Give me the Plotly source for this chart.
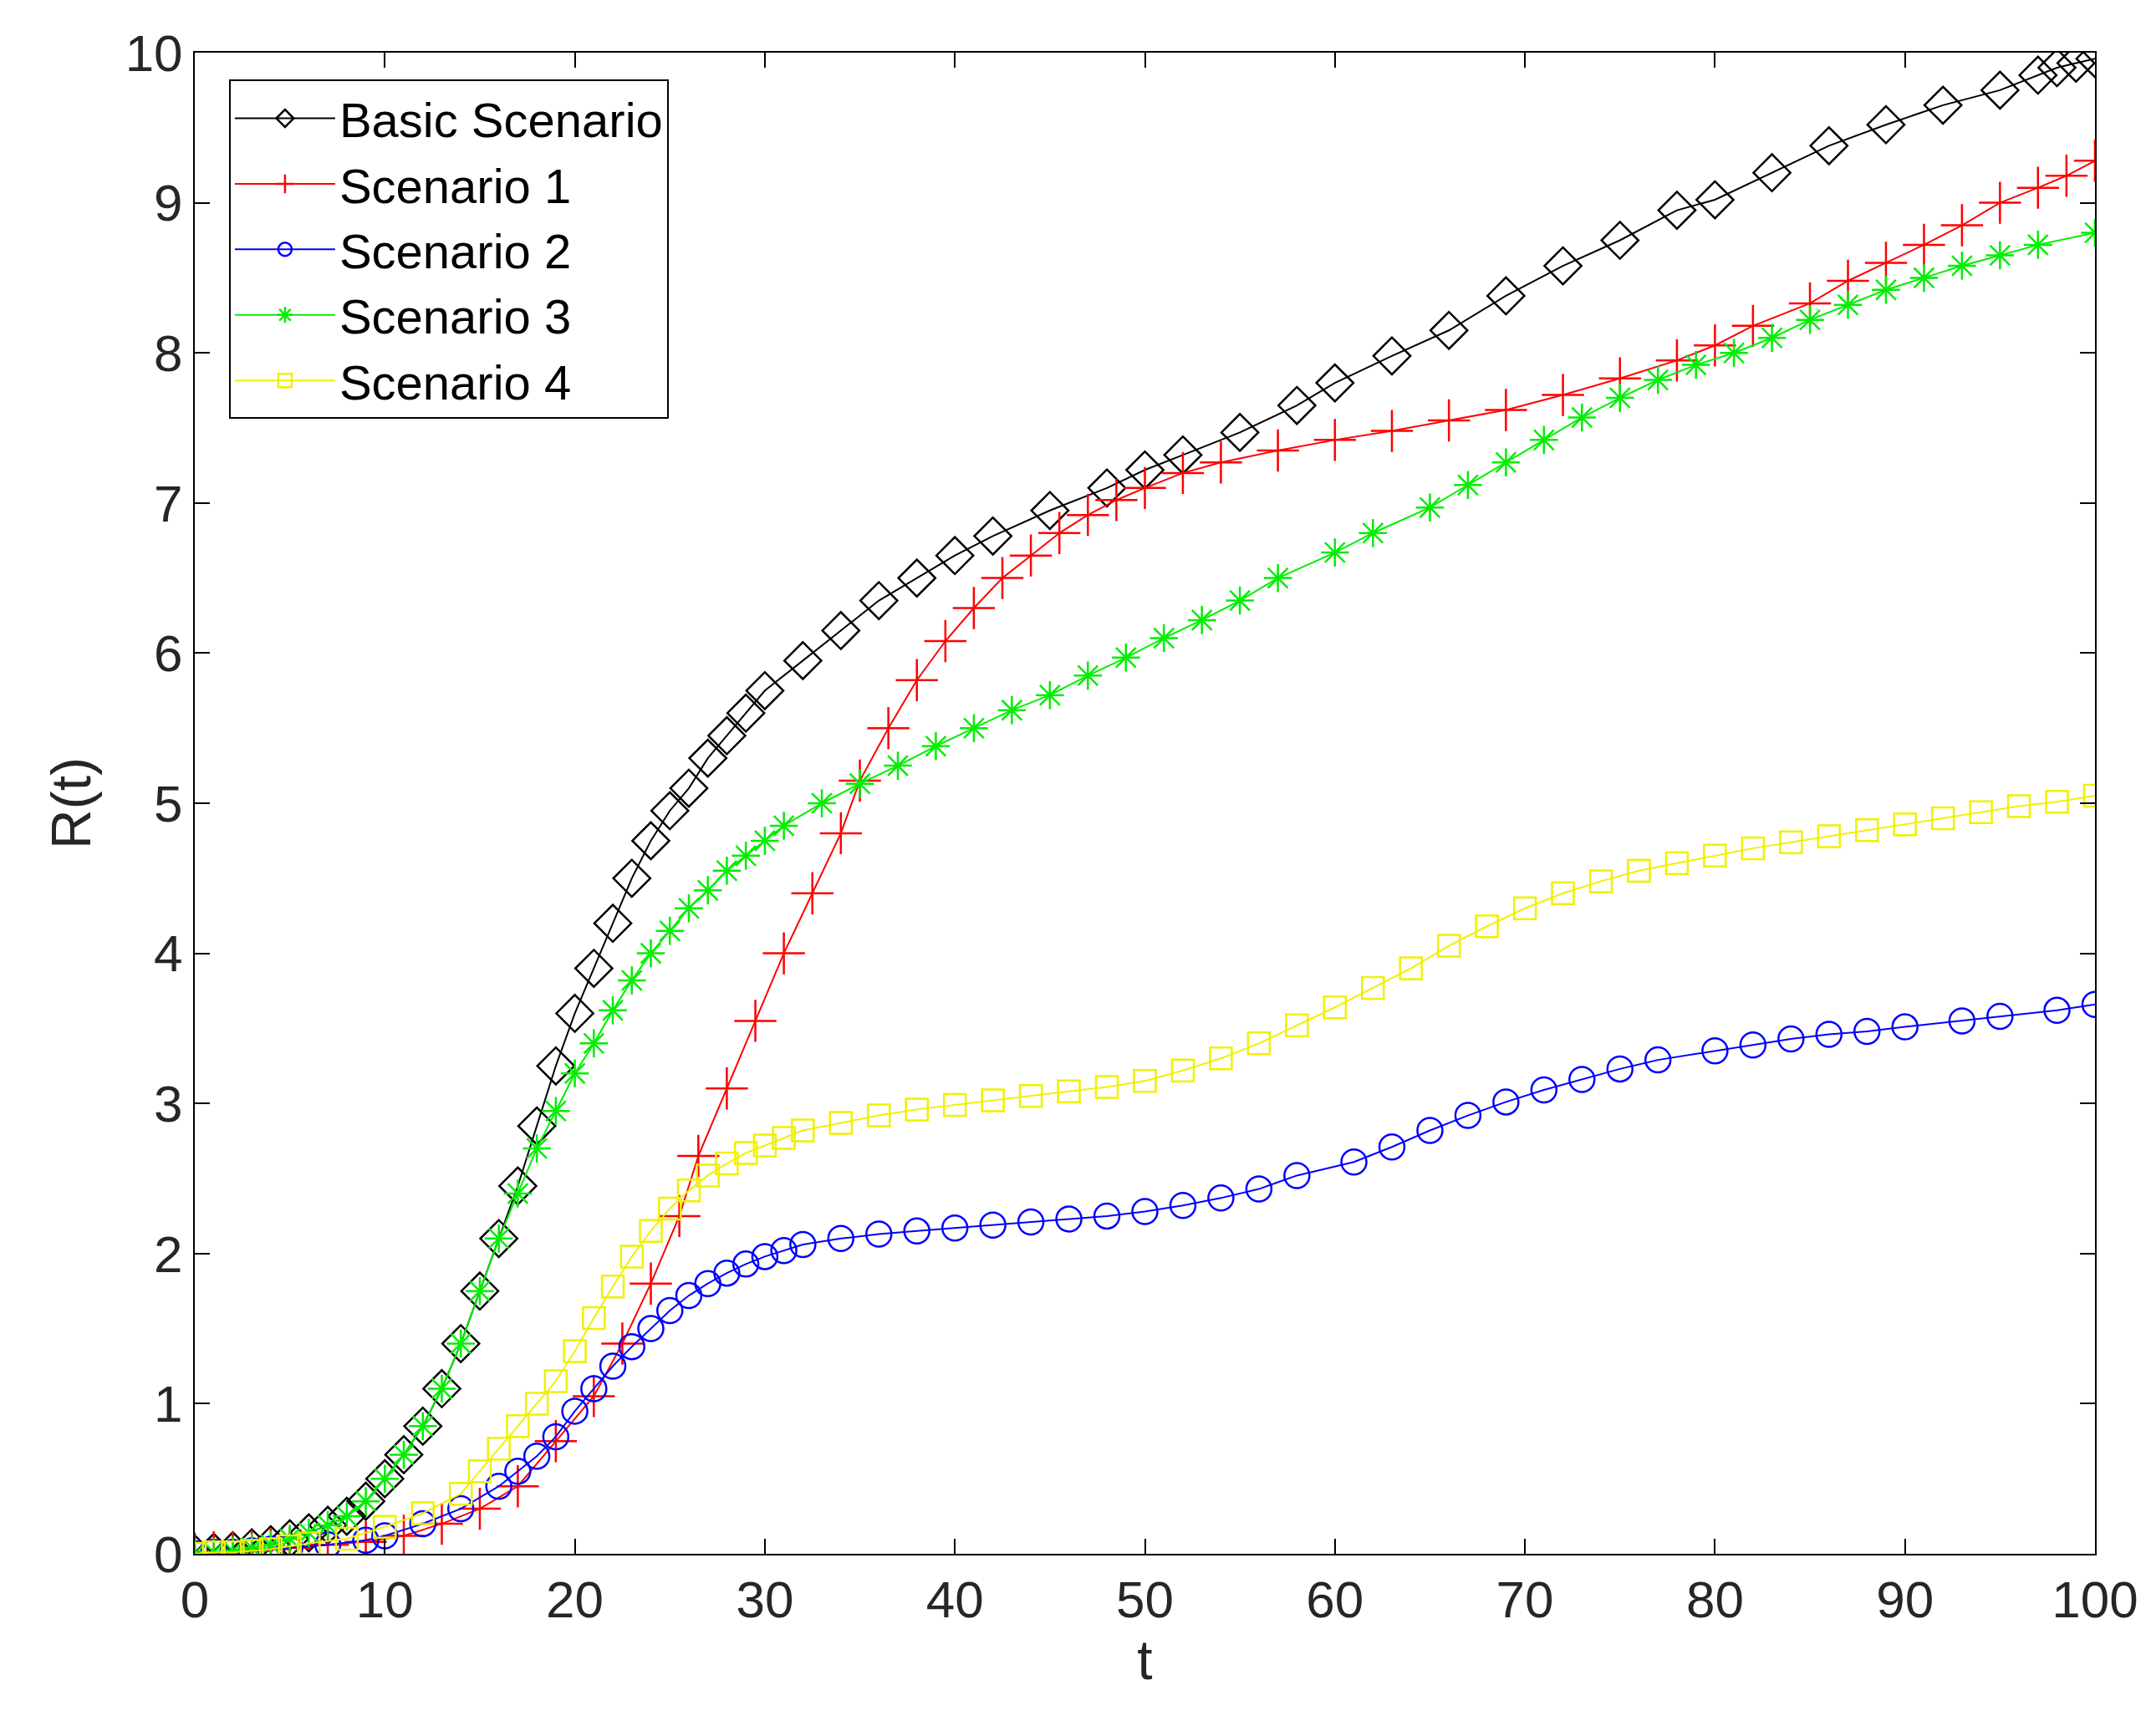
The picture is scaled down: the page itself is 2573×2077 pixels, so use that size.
import plotly.graph_objects as go

# Basic Scenario
t_basic = [0, 1, 2, 3, 4, 5, 6, 7, 8, 9, 10, 11, 12, 13, 14, 15, 16, 17, 18, 19, 20, 21, 22, 23, 24, 25, 26, 27, 28, 29, 30,
           32, 34, 36, 38, 40, 42, 45, 48, 50, 52, 55, 58, 60, 63, 66, 69, 72, 75, 78, 80, 83, 86, 89, 92, 95, 97, 98, 99, 100]
r_basic = [0, 0.01, 0.02, 0.04, 0.06, 0.1, 0.14, 0.19, 0.25, 0.35, 0.5, 0.66, 0.85, 1.1, 1.4, 1.75, 2.1, 2.45, 2.85, 3.25, 3.6,
           3.9, 4.2, 4.5, 4.75, 4.95, 5.1, 5.3, 5.45, 5.6, 5.75, 5.95, 6.15, 6.35, 6.5, 6.65, 6.78, 6.95, 7.1, 7.22, 7.32, 7.47,
           7.65, 7.8, 7.98, 8.15, 8.38, 8.58, 8.75, 8.95, 9.02, 9.2, 9.38, 9.52, 9.65, 9.75, 9.85, 9.9, 9.93, 9.96]

# Scenario 1
t_s1 = [0, 1, 2, 3, 4, 5, 7, 9, 11, 13, 15, 17, 19, 21, 22.5, 24, 25.5, 26.5, 28, 29.5, 31, 32.5, 34, 35, 36.5, 38, 39.5, 41,
        42.5, 44, 45.5, 47, 48.5, 50, 52, 54, 57, 60, 63, 66, 69, 72, 75, 78, 80, 82, 85, 87, 89, 91, 93, 95, 97, 98.5, 100]
r_s1 = [0, 0.01, 0.01, 0.02, 0.03, 0.04, 0.06, 0.08, 0.12, 0.2, 0.3, 0.45, 0.75, 1.05, 1.4, 1.8, 2.25, 2.65, 3.1, 3.55, 4.0,
        4.4, 4.8, 5.15, 5.5, 5.82, 6.08, 6.3, 6.5, 6.65, 6.8, 6.92, 7.02, 7.1, 7.2, 7.27, 7.35, 7.42, 7.48, 7.55, 7.62, 7.72,
        7.83, 7.95, 8.05, 8.18, 8.33, 8.48, 8.6, 8.72, 8.85, 9.0, 9.1, 9.18, 9.28]

# Scenario 2
t_s2 = [0, 1, 2, 3, 4, 5, 7, 9, 10, 12, 14, 16, 17, 18, 19, 20, 21, 22, 23, 24, 25, 26, 27, 28, 29, 30, 31, 32, 34, 36, 38,
        40, 42, 44, 46, 48, 50, 52, 54, 56, 58, 61, 63, 65, 67, 69, 71, 73, 75, 77, 80, 82, 84, 86, 88, 90, 93, 95, 98, 100]
r_s2 = [0, 0.01, 0.01, 0.02, 0.03, 0.04, 0.06, 0.09, 0.12, 0.2, 0.3, 0.45, 0.55, 0.65, 0.78, 0.95, 1.1, 1.25, 1.38, 1.5, 1.62,
        1.72, 1.8, 1.87, 1.93, 1.98, 2.02, 2.06, 2.1, 2.13, 2.15, 2.17, 2.19, 2.21, 2.23, 2.25, 2.28, 2.32, 2.37, 2.43, 2.52,
        2.61, 2.71, 2.82, 2.92, 3.01, 3.09, 3.16, 3.23, 3.29, 3.35, 3.39, 3.43, 3.46, 3.48, 3.51, 3.55, 3.58, 3.62, 3.66]

# Scenario 3
t_s3 = [0, 1, 2, 3, 4, 5, 6, 7, 8, 9, 10, 11, 12, 13, 14, 15, 16, 17, 18, 19, 20, 21, 22, 23, 24, 25, 26, 27, 28, 29, 30, 31,
        33, 35, 37, 39, 41, 43, 45, 47, 49, 51, 53, 55, 57, 60, 62, 65, 67, 69, 71, 73, 75, 77, 79, 81, 83, 85, 87, 89, 91,
        93, 95, 97, 100]
r_s3 = [0, 0.01, 0.02, 0.04, 0.06, 0.1, 0.14, 0.19, 0.25, 0.35, 0.5, 0.66, 0.85, 1.1, 1.4, 1.75, 2.1, 2.4, 2.7, 2.95, 3.2,
        3.4, 3.62, 3.82, 4.0, 4.15, 4.3, 4.42, 4.55, 4.65, 4.75, 4.85, 5.0, 5.13, 5.25, 5.38, 5.5, 5.62, 5.72, 5.85, 5.97,
        6.1, 6.22, 6.35, 6.5, 6.67, 6.8, 6.97, 7.12, 7.27, 7.42, 7.57, 7.7, 7.82, 7.92, 8.0, 8.1, 8.22, 8.32, 8.42, 8.5,
        8.58, 8.65, 8.72, 8.8]

# Scenario 4
t_s4 = [0, 1, 2, 3, 4, 5, 6, 8, 10, 12, 14, 15, 16, 17, 18, 19, 20, 21, 22, 23, 24, 25, 26, 27, 28, 29, 30, 31, 32, 34, 36,
        38, 40, 42, 44, 46, 48, 50, 52, 54, 56, 58, 60, 62, 64, 66, 68, 70, 72, 74, 76, 78, 80, 82, 84, 86, 88, 90, 92, 94,
        96, 98, 100]
r_s4 = [0, 0.01, 0.01, 0.02, 0.03, 0.05, 0.07, 0.1, 0.18, 0.27, 0.4, 0.55, 0.7, 0.85, 1.0, 1.15, 1.35, 1.57, 1.78, 1.98,
        2.15, 2.3, 2.42, 2.52, 2.6, 2.67, 2.72, 2.77, 2.82, 2.87, 2.92, 2.96, 2.99, 3.02, 3.05, 3.08, 3.11, 3.15, 3.22, 3.3,
        3.4, 3.52, 3.64, 3.77, 3.9, 4.05, 4.18, 4.3, 4.4, 4.48, 4.55, 4.6, 4.65, 4.7, 4.74, 4.78, 4.82, 4.86, 4.9, 4.94,
        4.98, 5.01, 5.05]

series = [
    ("Basic Scenario", t_basic, r_basic, "black", "diamond-open", 34),
    ("Scenario 1", t_s1, r_s1, "red", "cross-thin-open", 36),
    ("Scenario 2", t_s2, r_s2, "blue", "circle-open", 30),
    ("Scenario 3", t_s3, r_s3, "#00ee00", "asterisk-open", 28),
    ("Scenario 4", t_s4, r_s4, "#f0f000", "square-open", 26),
]

fig = go.Figure()
for name, t, r, col, sym, sz in series:
    fig.add_trace(go.Scatter(x=t, y=r, name=name, mode="lines+markers",
                             line=dict(color=col, width=2),
                             marker=dict(symbol=sym, size=sz, color=col, line=dict(color=col, width=2.5))))

axis = dict(showgrid=False, zeroline=False, showline=True, linecolor="black", linewidth=2, mirror="ticks",
            ticks="inside", ticklen=18, tickwidth=2, tickcolor="black",
            tickfont=dict(size=62, color="#262626"), dtick=10)
fig.update_layout(
    width=2573, height=2077, plot_bgcolor="white", paper_bgcolor="white",
    font=dict(family="Liberation Sans, Arial", color="#262626"),
    margin=dict(l=225, r=75, t=55, b=226),
    xaxis=dict(axis, range=[0, 100], title=dict(text="t", font=dict(size=66), standoff=15)),
    yaxis=dict(axis, range=[0, 10], dtick=1, title=dict(text="R(t)", font=dict(size=66), standoff=20)),
    legend=dict(x=0.018, y=0.982, xanchor="left", yanchor="top", bgcolor="white",
                bordercolor="black", borderwidth=2, font=dict(size=58, color="black"),
                itemwidth=120, tracegroupgap=4),
)
fig.write_html("out.html")
